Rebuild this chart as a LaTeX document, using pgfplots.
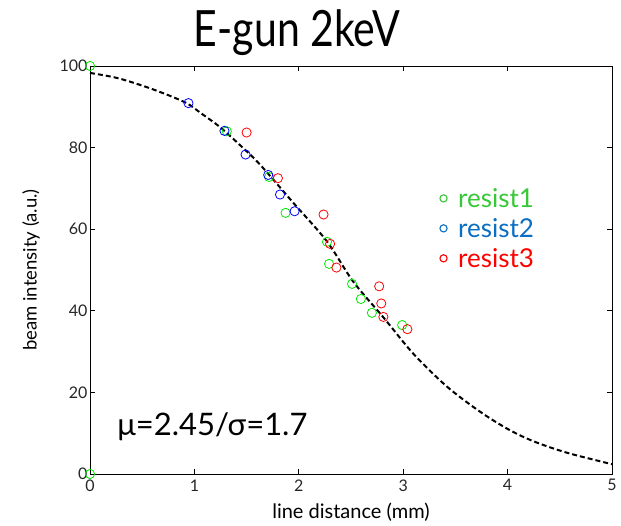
\documentclass[border=0pt]{standalone}
\usepackage{pgfplots}
\pgfplotsset{compat=1.18}
\usepackage{fontspec}
\setmainfont{Lato}
\newfontfamily\titlefont[FakeStretch=0.82]{Lato}
\definecolor{mgreen}{RGB}{0,235,0}
\definecolor{mblue}{RGB}{0,0,255}
\definecolor{mred}{RGB}{255,0,0}
\definecolor{lgreen}{RGB}{55,200,55}
\definecolor{lblue}{RGB}{10,110,195}
\definecolor{lred}{RGB}{255,0,0}
\begin{document}
\begin{tikzpicture}
\useasboundingbox (-90pt,-51pt) rectangle (531pt,474pt);
\begin{axis}[
  at={(0pt,0pt)}, anchor=south west,
  scale only axis, width=522pt, height=408pt,
  xmin=0, xmax=5, ymin=0, ymax=100,
  xtick={0,1,2,3,4,5}, ytick={0,20,40,60,80,100},
  tick align=inside, major tick length=5pt,
  axis line style={line width=0.8pt},
  every tick/.style={line width=0.8pt, black},
  clip=false,
  /pgf/number format/assume math mode=true,
  tick label style={font=\fontsize{16}{16}\selectfont, text=black!85},
  xticklabel style={yshift=-2pt},
  yticklabel style={xshift=1pt},
  xlabel={line distance (mm)},
  ylabel={beam intensity (a.u.)},
  every axis x label/.style={at={(axis description cs:0.5,0)}, yshift=-38pt, anchor=center, font=\fontsize{20}{20}\selectfont},
  every axis y label/.style={at={(axis description cs:0,0.5)}, xshift=-59pt, rotate=90, anchor=center, font=\fontsize{18.5}{18.5}\selectfont},
  legend style={draw=none, fill=none, at={(axis cs:3.35,70.6)}, anchor=north west,
    font=\fontsize{26}{26}\selectfont, row sep=5.5pt, inner sep=0pt},
  legend cell align=left,
]
\addplot[black, line width=2pt, dash pattern=on 5pt off 3pt, smooth, forget plot] coordinates {
(0,98.3) (0.27,97.0) (0.59,94.4) (0.91,91.1) (1.07,88.3) (1.246,85.0) (1.45,80.3)
(1.63,75.8) (1.95,66.4) (2.27,57.0) (2.52,47.2) (2.81,38.4) (3.10,29.4)
(3.42,21.4) (3.74,15.2) (4.01,10.9) (4.25,8.0) (4.57,5.2) (5.0,2.4)
};
\addplot[only marks, mark=o, mark size=4.6pt, mgreen, mark options={line width=0.8pt}, forget plot] coordinates {
(0,100) (1.31,84.0) (1.716,72.8) (1.873,64.0) (2.27,56.9) (2.29,51.5) (2.51,46.6)
(2.595,42.9) (2.70,39.5) (2.99,36.5) (0,0)
};
\addplot[only marks, mark=o, mark size=4.6pt, mblue, mark options={line width=0.8pt}, forget plot] coordinates {
(0.943,90.9) (1.288,84.1) (1.49,78.3) (1.707,73.3) (1.82,68.5) (1.96,64.4)
};
\addplot[only marks, mark=o, mark size=4.6pt, mred, mark options={line width=0.8pt}, forget plot] coordinates {
(1.50,83.7) (1.80,72.5) (2.237,63.6) (2.30,56.4) (2.36,50.6) (2.77,46.0)
(2.79,41.8) (2.81,38.5) (3.04,35.5)
};
\addlegendimage{only marks, mark=o, mark size=3.6pt, lgreen, mark options={line width=1.1pt}}
\addlegendentry{\hspace{9pt}\textcolor{lgreen}{resist1}}
\addlegendimage{only marks, mark=o, mark size=3.6pt, lblue, mark options={line width=1.1pt}}
\addlegendentry{\hspace{9pt}\textcolor{lblue}{resist2}}
\addlegendimage{only marks, mark=o, mark size=3.6pt, lred, mark options={line width=1.1pt}}
\addlegendentry{\hspace{9pt}\textcolor{lred}{resist3}}
\node[anchor=base west, font=\fontsize{31}{31}\selectfont, inner sep=0pt] at (axis cs:0.26,9.5) {μ=2.45/σ=1.7};
\end{axis}
\node[anchor=base, font=\titlefont\fontsize{50}{50}\selectfont, inner sep=0pt] at (207pt,427pt) {E-gun 2keV};
\end{tikzpicture}
\end{document}
